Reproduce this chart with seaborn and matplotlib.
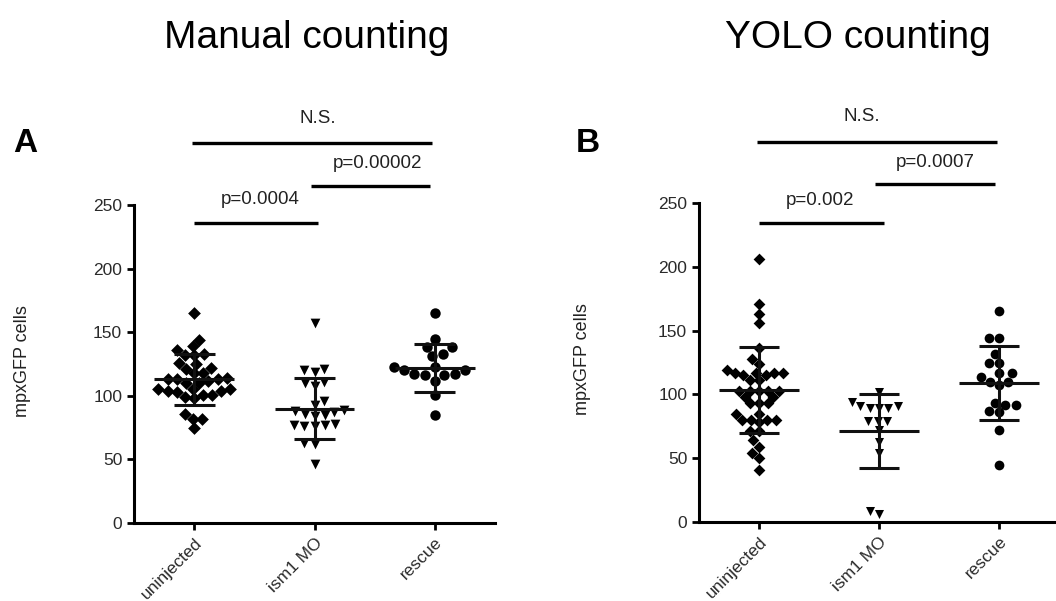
import matplotlib
matplotlib.use("Agg")
import matplotlib.pyplot as plt
import seaborn as sns

# Groups and marker per group
categories = ['uninjected', 'ism1 MO', 'rescue']
group_markers = ['D', 'v', 'o']

# Panel A: manual counting
manual_uninjected = [165, 144, 139, 136, 132, 132, 133, 125, 126, 122, 121, 118, 118,
                     113, 113, 114, 112, 113, 110, 110, 105, 104, 105, 104, 103, 105,
                     101, 101, 99, 98, 86, 82, 82, 75]
manual_ism1 = [157, 121, 120, 119, 111, 110, 108, 96, 93, 89, 88, 87, 86, 85, 84,
               78, 77, 76, 77, 76, 63, 62, 46]
manual_rescue = [165, 145, 138, 138, 133, 131, 123, 123, 120, 120, 117, 117, 116,
                 116, 112, 101, 85]
manual_means = [113, 90, 122]
manual_sds = [20, 24, 19]
manual_labels = ['p=0.0004', 'p=0.00002', 'N.S.']

# Panel B: YOLO counting
yolo_uninjected = [206, 171, 163, 156, 136, 128, 124, 117, 117, 119, 117, 115, 117,
                   115, 111, 111, 103, 103, 103, 103, 103, 98, 98, 93, 93, 93, 85,
                   85, 80, 80, 80, 80, 78, 71, 71, 64, 59, 54, 50, 41]
yolo_ism1 = [102, 94, 91, 91, 89, 89, 89, 79, 79, 79, 72, 63, 54, 6, 9]
yolo_rescue = [165, 144, 144, 132, 125, 125, 117, 117, 114, 110, 110, 107, 92, 93,
               92, 87, 86, 72, 45]
yolo_means = [103.5, 71, 109]
yolo_sds = [34, 29, 29]
yolo_labels = ['p=0.002', 'p=0.0007', 'N.S.']

# Bracket layout: (x0, x1, bar_y, text_x, text_y)
manual_brackets = [(0.0, 1.03, 236, 0.55, 254),
                   (0.97, 1.96, 265, 1.52, 283),
                   (-0.02, 1.98, 299, 1.03, 318)]
yolo_brackets = [(0.0, 1.04, 234, 0.51, 252),
                 (0.97, 1.97, 265, 1.47, 282),
                 (-0.02, 1.98, 298, 0.86, 318)]


def plot_panel(ax, groups, means, sds, labels, brackets, sizes):
    for i, (cat, values) in enumerate(zip(categories, groups)):
        sns.swarmplot(x=[cat] * len(values), y=values, order=categories,
                      marker=group_markers[i], color='black', size=sizes[i],
                      linewidth=0, ax=ax, warn_thresh=1)

    # mean +/- SD
    for i, (m, s) in enumerate(zip(means, sds)):
        ax.hlines(m, i - 0.33, i + 0.33, color='#111111', lw=2.2, zorder=5)
        ax.hlines([m - s, m + s], i - 0.17, i + 0.17, color='#111111', lw=2.2, zorder=5)
        ax.vlines(i, m - s, m + s, color='#111111', lw=2.2, zorder=5)

    # significance bars
    for text, (x0, x1, y, tx, ty) in zip(labels, brackets):
        ax.plot([x0, x1], [y, y], color='black', lw=2.4, clip_on=False,
                solid_capstyle='butt')
        ax.text(tx, ty, text, ha='center', va='center', fontsize=13.5,
                color='#222222', clip_on=False)

    ax.set_xlim(-0.5, 2.5)
    ax.set_ylim(0, 250)
    ax.set_yticks(range(0, 251, 50))
    ax.set_xticks(range(len(categories)))
    ax.set_xticklabels(categories, rotation=45, ha='right', rotation_mode='anchor')
    ax.set_xlabel('')
    ax.set_ylabel('mpxGFP cells', fontsize=13, color='#222222')
    sns.despine(ax=ax)
    for side in ['left', 'bottom']:
        ax.spines[side].set_linewidth(2.2)
        ax.spines[side].set_color('black')
    ax.tick_params(axis='both', width=2, length=5, labelsize=12.5,
                   labelcolor='#2a2a2a', color='black')


def main():
    sns.set_theme(style="ticks")
    plt.rcParams['font.family'] = ['Liberation Sans', 'DejaVu Sans']
    plt.rcParams['text.color'] = 'black'

    fig = plt.figure(figsize=(10.56, 6.01), dpi=100)
    ax_a = fig.add_axes([134 / 1056, 78 / 601, 361 / 1056, 318 / 601])
    ax_b = fig.add_axes([699 / 1056, 79 / 601, 360 / 1056, 319 / 601])

    plot_panel(ax_a, [manual_uninjected, manual_ism1, manual_rescue],
               manual_means, manual_sds, manual_labels, manual_brackets,
               sizes=[6.5, 7, 7.5])
    plot_panel(ax_b, [yolo_uninjected, yolo_ism1, yolo_rescue],
               yolo_means, yolo_sds, yolo_labels, yolo_brackets,
               sizes=[6, 6.5, 7])
    ax_a.yaxis.set_label_coords(-0.285, 0.51)
    ax_b.yaxis.set_label_coords(-0.30, 0.51)

    fig.text(307 / 1056, 1 - 38 / 601, 'Manual counting', ha='center', va='center',
             fontsize=28, color='black')
    fig.text(858 / 1056, 1 - 38 / 601, 'YOLO counting', ha='center', va='center',
             fontsize=28, color='black')
    fig.text(13 / 1056, 1 - 143 / 601, 'A', fontsize=24, weight='bold', va='center',
             color='black')
    fig.text(576 / 1056, 1 - 143 / 601, 'B', fontsize=24, weight='bold', va='center',
             color='black')

    fig.savefig('out.png', dpi=100)


if __name__ == "__main__":
    main()
